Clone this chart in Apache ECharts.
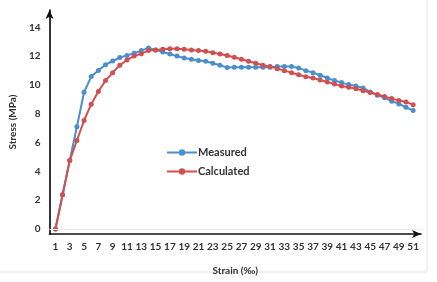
<!DOCTYPE html>
<html>
<head>
<meta charset="utf-8">
<script src="https://cdn.jsdelivr.net/npm/echarts@6/dist/echarts.min.js"></script>
<style>
  html, body { margin: 0; padding: 0; background: #fff; }
  #chart { width: 437px; height: 282px; }
</style>
</head>
<body>
<div id="chart"></div>
<script>
// strain steps 1..51
const strain = [];
for (let i = 1; i <= 51; i++) strain.push(i);

const xTickLabels = [1, 3, 5, 7, 9, 11, 13, 15, 17, 19, 21, 23, 25, 27, 29, 31, 33, 35, 37, 39, 41, 43, 45, 47, 49, 51];
const yTickLabels = [0, 2, 4, 6, 8, 10, 12, 14];

const measured = [
  0, 2.38, 4.75, 7.1, 9.49, 10.58, 11.0, 11.4, 11.66, 11.9,
  12.05, 12.2, 12.38, 12.57, 12.43, 12.29, 12.15, 12.0, 11.87, 11.78,
  11.69, 11.64, 11.5, 11.36, 11.2, 11.22, 11.22, 11.22, 11.22, 11.22,
  11.22, 11.27, 11.27, 11.27, 11.18, 10.99, 10.85, 10.67, 10.48, 10.3,
  10.16, 10.02, 9.93, 9.79, 9.51, 9.29, 9.1, 8.87, 8.68, 8.45,
  8.22
];

const calculated = [
  0, 2.38, 4.75, 6.14, 7.53, 8.66, 9.54, 10.3, 10.85, 11.36,
  11.73, 12.0, 12.17, 12.38, 12.43, 12.47, 12.51, 12.51, 12.47, 12.43,
  12.38, 12.33, 12.24, 12.15, 12.04, 11.92, 11.78, 11.64, 11.5, 11.36,
  11.27, 11.13, 10.99, 10.85, 10.71, 10.57, 10.48, 10.34, 10.2, 10.07,
  9.93, 9.84, 9.74, 9.6, 9.47, 9.33, 9.19, 9.05, 8.91, 8.82,
  8.63
];

const font = 'Lato, "Open Sans", sans-serif';
const textColor = '#333';

const pairs = (vals) => strain.map((s, i) => [s, vals[i]]);

const chart = echarts.init(document.getElementById('chart'), null, { renderer: 'canvas' });

chart.setOption({
  animation: false,
  backgroundColor: '#fff',
  textStyle: { fontFamily: font },
  grid: { left: 44, right: 16, top: 10, bottom: 48 },
  graphic: [{
    type: 'rect',
    shape: { x: -1, y: -1, width: 428, height: 273 },
    style: { fill: 'none', stroke: '#e2e2e2', lineWidth: 1 },
    silent: true,
    z: -10
  }],
  legend: {
    orient: 'vertical',
    left: 161,
    top: 142,
    itemWidth: 30,
    itemHeight: 8,
    itemGap: 8,
    textStyle: { fontFamily: font, fontWeight: 'bold', fontSize: 11, color: textColor, padding: [0, 0, 0, -4] },
    data: ['Measured', 'Calculated']
  },
  xAxis: {
    type: 'value',
    min: 0.17,
    max: 52.1,
    name: 'Strain (‰)',
    nameLocation: 'middle',
    nameGap: 32,
    nameTextStyle: { fontFamily: font, fontWeight: 'bold', fontSize: 10, color: textColor },
    axisLine: {
      onZero: false,
      lineStyle: { color: '#111', width: 1.7 },
      symbol: ['none', 'arrow'],
      symbolSize: [6, 9]
    },
    axisTick: { show: false },
    splitLine: { show: false },
    axisLabel: {
      customValues: xTickLabels,
      margin: 8,
      fontFamily: font,
      fontWeight: 'bold',
      fontSize: 10,
      color: textColor
    }
  },
  yAxis: {
    type: 'value',
    min: -0.35,
    max: 15.2,
    name: 'Stress (MPa)',
    nameLocation: 'middle',
    nameGap: 30,
    nameTextStyle: { fontFamily: font, fontWeight: 'bold', fontSize: 10, color: textColor },
    axisLine: {
      show: true,
      lineStyle: { color: '#111', width: 1.7 },
      symbol: ['none', 'arrow'],
      symbolSize: [6, 9]
    },
    axisTick: { show: false },
    splitLine: { show: false },
    axisLabel: {
      customValues: yTickLabels,
      margin: 9,
      fontFamily: font,
      fontWeight: 'bold',
      fontSize: 10,
      color: textColor
    }
  },
  series: [
    {
      // faint zero gridline, kept underneath the data lines
      name: 'zero',
      type: 'line',
      data: [],
      z: 1,
      markLine: {
        silent: true,
        symbol: 'none',
        label: { show: false },
        lineStyle: { color: '#ececec', width: 1, type: 'solid' },
        data: [{ yAxis: 0 }]
      }
    },
    {
      name: 'Measured',
      type: 'line',
      data: pairs(measured),
      symbol: 'circle',
      symbolSize: 5,
      lineStyle: { color: '#4A8FCB', width: 2 },
      itemStyle: { color: '#4A8FCB' },
      z: 3
    },
    {
      name: 'Calculated',
      type: 'line',
      data: pairs(calculated),
      symbol: 'circle',
      symbolSize: 5,
      lineStyle: { color: '#D04F4F', width: 2 },
      itemStyle: { color: '#D04F4F' },
      z: 4
    }
  ]
});
</script>
</body>
</html>
